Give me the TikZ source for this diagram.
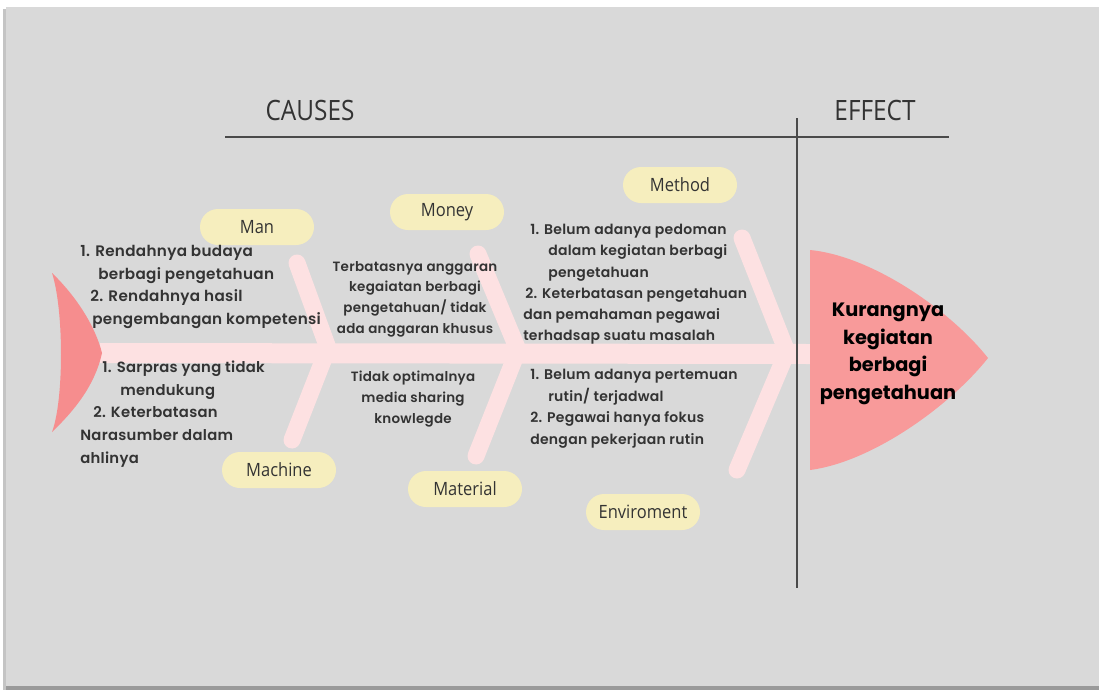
\documentclass[tikz,border=0pt]{standalone}
\usepackage{fontspec}
\setmainfont{Poppins}
\newfontfamily\bodyf{Poppins SemiBold}[LetterSpace=2]
\newfontfamily\headf{Poppins Bold}
\newfontfamily\labf{Open Sans}[FakeStretch=0.9]
\newfontfamily\titf{Open Sans}[FakeStretch=0.87]
\definecolor{panel}{HTML}{D9D9D9}
\definecolor{shadowc}{HTML}{9A9A9A}
\definecolor{softshadow}{HTML}{C4C4C4}
\definecolor{bonec}{HTML}{FDE1E2}
\definecolor{tailc}{HTML}{F68D8E}
\definecolor{headc}{HTML}{F89A9A}
\definecolor{pillc}{HTML}{F6EEBE}
\definecolor{inkc}{HTML}{333333}
\definecolor{rulec}{HTML}{4A4A4A}
\tikzset{
  bone/.style={draw=bonec, line width=12.75pt, line cap=round, line join=round},
  spinebar/.style={draw=bonec, line width=15pt},
  pill/.style={fill=pillc, rounded corners=13.5pt, minimum width=85.5pt, minimum height=27pt, inner sep=0pt, font=\labf\fontsize{13.75}{16}\selectfont, text=inkc},
  causetext/.style={inner sep=0pt, text=inkc, font=\bodyf\fontsize{11.4}{16.9}\selectfont},
  ruleline/.style={draw=rulec, line width=1.1pt},
  titletext/.style={inner sep=0pt, text=inkc, font=\titf\fontsize{21}{25}\selectfont}
}
\begin{document}
\begin{tikzpicture}[x=0.75pt,y=-0.75pt]
\useasboundingbox (0,0) rectangle (1099,690);
\fill[white] (0,0) rectangle (1099,690);
\fill[softshadow] (3,9) rectangle (1099,690);
\fill[shadowc] (6,12) rectangle (1099,690);
\fill[panel] (6,7) rectangle (1099,686);

% titles and rules
\node[titletext] (causes) at (310,110) {CAUSES};
\node[titletext] (effect) at (875,110) {EFFECT};
\coordinate (hl) at (225,137);
\coordinate (hr) at (949,137);
\coordinate (vt) at (797,118);
\coordinate (vb) at (797,588);

% spine and bones
\coordinate (spL) at (100,353);
\coordinate (spR) at (812,354);
\draw[spinebar] (spL) -- (spR);
\coordinate (b1t) at (297,263);
\coordinate (b1a) at (328,348);
\coordinate (b1b) at (292,440);
\coordinate (b2t) at (478,254);
\coordinate (b2a) at (518,350);
\coordinate (b2b) at (476,456);
\coordinate (b3t) at (742,238);
\coordinate (b3a) at (787,352);
\coordinate (b3b) at (737,470);
\draw[bone] (b1t) -- (b1a) -- (b1b);
\draw[bone] (b2t) -- (b2a) -- (b2b);
\draw[bone] (b3t) -- (b3a) -- (b3b);

\draw[ruleline] (hl) -- (hr);
\draw[ruleline] (vt) -- (vb);

% tail
\fill[tailc] (52,273) .. controls (75,295) and (95,325) .. (102,353)
  .. controls (95,385) and (75,410) .. (52,432)
  .. controls (64,400) and (64,310) .. (52,273) -- cycle;

% head
\fill[headc] (810,250) .. controls (872,256) and (950,310) .. (988,358)
  .. controls (950,406) and (872,462) .. (810,470) -- cycle;
\node[inner sep=0pt, align=center, text=black, font=\headf\fontsize{14.5}{20.75}\selectfont] (effecttext) at (888,354)
  {Kurangnya\\kegiatan\\berbagi\\pengetahuan};

% category pills
\node[pill] (man) at (257,227) {Man};
\node[pill] (money) at (447,212) {Money};
\node[pill] (method) at (680,185) {Method};
\node[pill] (machine) at (279,470) {Machine};
\node[pill] (material) at (465,489) {Material};
\node[pill] (enviro) at (643,512) {Enviroment};

% cause texts
\node[causetext, anchor=north west, align=left] (mantext) at (80,245)
  {1. Rendahnya budaya\\\hspace*{13.5pt}berbagi pengetahuan\\\hspace*{7.5pt}2. Rendahnya hasil\\\hspace*{9pt}pengembangan kompetensi};
\node[causetext, anchor=north west, align=left, font=\bodyf\fontsize{11.1}{16.9}\selectfont] (machtext) at (80,361)
  {\hspace*{16.5pt}1. Sarpras yang tidak\\\hspace*{30pt}mendukung\\\hspace*{9.75pt}2. Keterbatasan\\Narasumber dalam\\ahlinya};
\node[causetext, align=center, font=\bodyf\fontsize{10.1}{15.5}\selectfont] (moneytext) at (415,299)
  {Terbatasnya anggaran\\kegaiatan berbagi\\pengetahuan/ tidak\\ada anggaran khusus};
\node[causetext, align=center, font=\bodyf\fontsize{10.1}{15.75}\selectfont] (mattext) at (413,399)
  {Tidak optimalnya\\media sharing\\knowlegde};
\node[causetext, anchor=north west, align=left, font=\bodyf\fontsize{10.5}{15.9}\selectfont] (methtext) at (523,224)
  {\hspace*{5.25pt}1. Belum adanya pedoman\\\hspace*{18.75pt}dalam kegiatan berbagi\\\hspace*{18.75pt}pengetahuan\\\hspace*{1.5pt}2. Keterbatasan pengetahuan\\dan pemahaman pegawai\\terhadsap suatu masalah};
\node[causetext, anchor=north west, align=left, font=\bodyf\fontsize{10.5}{16.2}\selectfont] (envtext) at (530,369)
  {1. Belum adanya pertemuan\\\hspace*{13.5pt}rutin/ terjadwal\\2. Pegawai hanya fokus\\dengan pekerjaan rutin};
\end{tikzpicture}
\end{document}
